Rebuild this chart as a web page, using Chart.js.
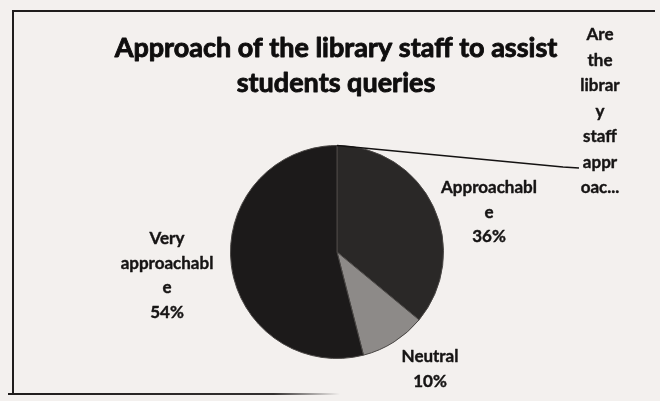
<!DOCTYPE html>
<html>
<head>
<meta charset="utf-8">
<script src="https://cdn.jsdelivr.net/npm/chart.js@4/dist/chart.umd.min.js"></script>
<style>
  html, body { margin: 0; padding: 0; background: #f3f0ee; }
  #wrap { width: 660px; height: 401px; position: relative; }
  canvas { display: block; }
</style>
</head>
<body>
<div id="wrap"><canvas id="pie" width="660" height="401"></canvas></div>
<script>
// Survey answers: how approachable the library staff are
const categories = ['Are the library staff approachable?', 'Approachable', 'Neutral', 'Very approachable'];
const shares = [0, 36, 10, 54];
// Label text as wrapped inside the narrow label boxes
const labelLines = [
  ['Are', 'the', 'librar', 'y', 'staff', 'appr', 'oac...'],
  ['Approachabl', 'e'],
  ['Neutral'],
  ['Very', 'approachabl', 'e']
];
const showPercent = [false, true, true, true];
const titleLines = ['Approach of the library staff to assist', 'students queries'];

const sliceColors = ['#2a2827', '#2a2827', '#8d8a88', '#1c1a1a'];
// Where each label block sits (centre x, first line y, line step)
const labelBoxes = [
  { x: 600, y: 35, step: 25.5 },
  { x: 489, y: 188, step: 24.5 },
  { x: 430, y: 357, step: 25 },
  { x: 167, y: 239, step: 24.5 }
];
const titleBox = { x: 336, y: 48, step: 35 };
const leaderEnd = { x: 579, y: 168 };

// Heavy text: fill plus a thin stroke of the same colour
function heavyText(ctx, t, x, y, w) {
  ctx.fillText(t, x, y);
  ctx.lineWidth = w;
  ctx.strokeText(t, x, y);
}

const framePlugin = {
  id: 'frame',
  beforeDraw(chart) {
    const ctx = chart.ctx;
    ctx.save();
    ctx.fillStyle = '#f3f0ee';
    ctx.fillRect(0, 0, chart.width, chart.height);
    ctx.strokeStyle = '#1f1c1c';
    ctx.lineWidth = 2;
    ctx.beginPath();
    ctx.moveTo(655, 11);
    ctx.lineTo(13, 11);
    ctx.lineTo(13, 394);
    ctx.stroke();
    const g = ctx.createLinearGradient(8, 0, 340, 0);
    g.addColorStop(0, '#1f1c1c');
    g.addColorStop(0.8, 'rgba(31,28,28,0.9)');
    g.addColorStop(1, 'rgba(31,28,28,0)');
    ctx.strokeStyle = g;
    ctx.beginPath();
    ctx.moveTo(8, 394);
    ctx.lineTo(340, 394);
    ctx.stroke();
    ctx.restore();
  }
};

const labelPlugin = {
  id: 'sliceLabels',
  afterDatasetsDraw(chart) {
    const ctx = chart.ctx;
    const meta = chart.getDatasetMeta(0);
    const data = chart.data.datasets[0].data;
    const total = data.reduce((a, b) => a + b, 0);
    ctx.save();
    ctx.textAlign = 'center';
    ctx.textBaseline = 'middle';
    ctx.lineJoin = 'round';

    // Chart title
    ctx.fillStyle = ctx.strokeStyle = '#0f0e0e';
    ctx.font = 'bold 27px Lato, "Open Sans", sans-serif';
    titleLines.forEach((t, k) => heavyText(ctx, t, titleBox.x, titleBox.y + k * titleBox.step, 0.9));

    // Category labels with percentages
    ctx.fillStyle = ctx.strokeStyle = '#161414';
    ctx.font = 'bold 17px Lato, "Open Sans", sans-serif';
    meta.data.forEach((arc, i) => {
      const box = labelBoxes[i];
      const lines = labelLines[i].slice();
      if (showPercent[i]) lines.push(Math.round(data[i] / total * 100) + '%');
      lines.forEach((t, k) => heavyText(ctx, t, box.x, box.y + k * box.step, 0.4));
    });

    // Leader line from the zero-size slice to its label
    const a0 = meta.data[0];
    const mid = (a0.startAngle + a0.endAngle) / 2;
    const sx = a0.x + Math.cos(mid) * a0.outerRadius;
    const sy = a0.y + Math.sin(mid) * a0.outerRadius;
    ctx.strokeStyle = '#141212';
    ctx.lineWidth = 1.6;
    ctx.beginPath();
    ctx.moveTo(sx, sy);
    ctx.lineTo(leaderEnd.x - 16, leaderEnd.y - 1);
    ctx.lineTo(leaderEnd.x, leaderEnd.y);
    ctx.stroke();
    ctx.restore();
  }
};

new Chart(document.getElementById('pie'), {
  type: 'pie',
  data: {
    labels: categories,
    datasets: [{
      data: shares,
      backgroundColor: sliceColors,
      borderColor: '#4a4745',
      borderWidth: 1
    }]
  },
  options: {
    responsive: false,
    animation: false,
    devicePixelRatio: 1,
    layout: { padding: { top: 145, left: 230, right: 216, bottom: 42 } },
    plugins: {
      legend: { display: false },
      tooltip: { enabled: false },
      title: { display: false }
    }
  },
  plugins: [framePlugin, labelPlugin]
});
</script>
</body>
</html>
